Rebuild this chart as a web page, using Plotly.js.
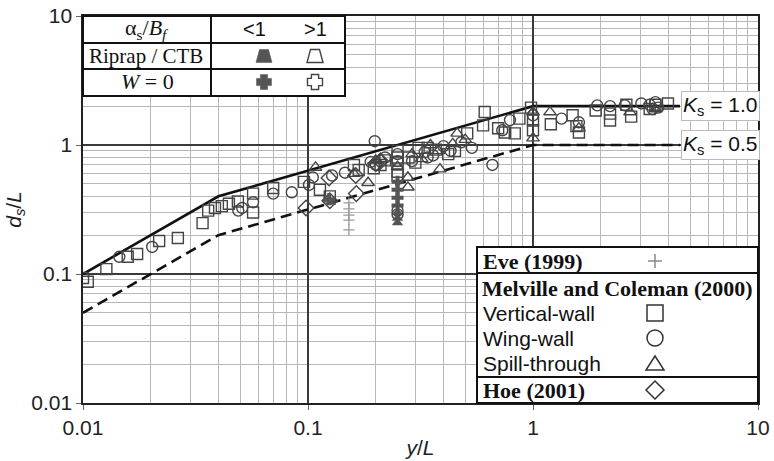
<!DOCTYPE html>
<html><head><meta charset="utf-8">
<script src="https://cdn.plot.ly/plotly-3.0.1.min.js"></script>
<style>html,body{margin:0;padding:0;background:#fff}#chart{width:774px;height:461px}</style>
</head><body><div id="chart"></div>
<script>
// ---------- data ----------
const envelopeX = [0.01, 0.04, 1, 4.5];
const ks10Y = [0.1, 0.4, 2, 2];
const ks05Y = [0.05, 0.2, 1, 1];

const eveX = [0.152, 0.152, 0.152, 0.152, 0.152];
const eveY = [0.356, 0.32, 0.286, 0.262, 0.22];

const vwX = [0.0100,0.0105,0.0127,0.0158,0.0174,0.0218,0.0264,0.034,0.036,0.0386,0.0414,0.0445,0.0488,0.057,0.057,0.070,0.096,0.113,0.125,0.160,0.168,0.196,0.21,0.22,0.25,0.25,0.25,0.25,0.25,0.28,0.30,0.31,0.34,0.37,0.42,0.45,0.51,0.60,0.61,0.70,0.75,0.83,0.87,0.98,1.0,1.0,1.2,1.5,1.56,1.6,1.9,2.2,2.2,2.6,2.73,3.3,3.5,3.98];
const vwY = [0.093,0.087,0.109,0.136,0.143,0.18,0.19,0.248,0.31,0.325,0.336,0.35,0.365,0.42,0.30,0.464,0.518,0.45,0.40,0.70,0.64,0.66,0.70,0.76,0.90,0.80,0.72,0.62,0.58,0.80,0.73,0.95,0.95,0.92,0.85,0.90,1.23,1.42,1.8,1.35,1.25,1.23,1.6,1.95,1.55,1.3,1.45,1.7,1.4,1.25,1.85,1.75,1.55,2.05,1.66,1.9,2.05,2.1];

const wwX = [0.0145,0.0203,0.049,0.051,0.057,0.070,0.0847,0.101,0.105,0.128,0.146,0.198,0.19,0.20,0.22,0.25,0.25,0.25,0.25,0.29,0.33,0.34,0.36,0.40,0.43,0.48,0.535,0.66,0.73,0.79,1.0,1.34,1.6,1.93,2.2,2.56,3.03,3.3,3.4,3.5,3.6];
const wwY = [0.136,0.162,0.31,0.325,0.36,0.42,0.43,0.49,0.56,0.58,0.61,1.07,0.74,0.70,0.80,0.85,0.75,0.31,0.29,0.75,0.88,0.80,0.83,0.98,0.90,1.05,0.95,0.70,1.3,1.56,1.7,1.6,1.5,2.03,2.0,2.03,2.1,2.05,1.9,2.15,1.95];

const stX = [0.108,0.16,0.185,0.20,0.21,0.25,0.278,0.278,0.29,0.32,0.35,0.38,0.386,0.44,0.46,0.50,1.0,1.0,1.19,1.6,2.7,3.5];
const stY = [0.67,0.60,0.51,0.76,0.78,0.68,0.56,0.47,0.85,0.78,1.0,0.90,0.65,1.02,1.23,1.10,1.13,1.8,1.8,1.35,1.8,1.9];

const hoeX = [0.098,0.124,0.125,0.163,0.164,0.20,0.21];
const hoeY = [0.325,0.556,0.37,0.58,0.42,0.72,0.75];

const filledCrossX = [0.124,0.25,0.25,0.25,0.25];
const filledCrossY = [0.38,0.52,0.45,0.39,0.34];
const filledTriX = [0.126,0.25,0.25,0.25];
const filledTriY = [0.36,0.30,0.27,0.25];

const decadeTicks = [0.01, 0.1, 1, 10];
const decadeText = ['0.01', '0.1', '1', '10'];

// ---------- layout helpers ----------
const L = 83, R = 758, T = 16, B = 403;
const fx = p => (p - L) / (R - L);
const fy = p => (B - p) / (B - T);
const minorVals = [];
[0.01, 0.1, 1].forEach(d => { for (let k = 2; k <= 9; k++) minorVals.push(+(d * k).toPrecision(3)); });

const SANS = 'Liberation Sans, Arial, sans-serif';
const SERIF = 'Liberation Serif, Times New Roman, serif';
const MK = '#444';

function openTrace(x, y, sym, size) {
  return {x, y, type:'scatter', mode:'markers', hoverinfo:'skip',
    marker:{symbol:sym, size:size, color:MK, line:{width:1.4, color:MK}}};
}

const traces = [
  {x:envelopeX, y:ks10Y, type:'scatter', mode:'lines', line:{color:'#111', width:2.6}, hoverinfo:'skip'},
  {x:envelopeX, y:ks05Y, type:'scatter', mode:'lines', line:{color:'#111', width:2.6, dash:'11px,6px'}, hoverinfo:'skip'},
  {x:eveX, y:eveY, type:'scatter', mode:'markers', hoverinfo:'skip',
    marker:{symbol:'cross-thin-open', size:8, color:'#999', line:{width:1.3, color:'#999'}}},
  openTrace(vwX, vwY, 'square-open', 11),
  openTrace(wwX, wwY, 'circle-open', 11),
  openTrace(stX, stY, 'triangle-up-open', 11),
  openTrace(hoeX, hoeY, 'diamond-open', 12),
  {x:filledCrossX, y:filledCrossY, type:'scatter', mode:'markers', hoverinfo:'skip',
    marker:{symbol:'cross', size:10, color:'#555', line:{width:0}}},
  {x:filledTriX, y:filledTriY, type:'scatter', mode:'markers', hoverinfo:'skip',
    marker:{symbol:'triangle-up', size:10, color:'#555', line:{width:0}}}
];

// ---------- shapes (tables) ----------
const shapes = [];
function rect(x0, y0, x1, y1, w) {
  shapes.push({type:'rect', xref:'paper', yref:'paper', x0:fx(x0), x1:fx(x1), y0:fy(y1), y1:fy(y0),
    line:{color:'#111', width:w}, fillcolor:'#fff', layer:'above'});
}
function hline(x0, x1, y, w) {
  shapes.push({type:'line', xref:'paper', yref:'paper', x0:fx(x0), x1:fx(x1), y0:fy(y), y1:fy(y),
    line:{color:'#111', width:w}, layer:'above'});
}
function vline(x, y0, y1, w) {
  shapes.push({type:'line', xref:'paper', yref:'paper', x0:fx(x), x1:fx(x), y0:fy(y0), y1:fy(y1),
    line:{color:'#111', width:w}, layer:'above'});
}
function pathPx(pts, fill, lineCol, lw) {
  const d = pts.map((p, i) => (i ? 'L' : 'M') + fx(p[0]).toFixed(5) + ',' + fy(p[1]).toFixed(5)).join(' ') + ' Z';
  shapes.push({type:'path', xref:'paper', yref:'paper', path:d, fillcolor:fill, line:{color:lineCol, width:lw}, layer:'above'});
}
function trapezoid(cx, cy, filled) {
  pathPx([[cx-8, cy+6.5], [cx+8, cy+6.5], [cx+4.5, cy-6.5], [cx-4.5, cy-6.5]],
    filled ? '#555' : 'rgba(0,0,0,0)', filled ? '#555' : '#444', filled ? 0.5 : 1.4);
}
function plus(cx, cy, filled) {
  const a = 3.6, b = 7.5;
  pathPx([[cx-a,cy-b],[cx+a,cy-b],[cx+a,cy-a],[cx+b,cy-a],[cx+b,cy+a],[cx+a,cy+a],[cx+a,cy+b],
          [cx-a,cy+b],[cx-a,cy+a],[cx-b,cy+a],[cx-b,cy-a],[cx-a,cy-a]],
    filled ? '#555' : 'rgba(0,0,0,0)', filled ? '#555' : '#444', filled ? 0.5 : 1.4);
}

// top-left table
rect(83, 16, 345, 96, 2);
hline(83, 345, 43, 2);
hline(83, 345, 69, 2);
vline(211, 16, 96, 2);
trapezoid(264, 56, true);
trapezoid(315, 56, false);
plus(264, 82, true);
plus(315, 82, false);

// bottom-right legend table
rect(477, 247, 758, 403, 2);
hline(477, 758, 273, 2);
hline(477, 758, 377, 2);
const sx = 655;
shapes.push({type:'line', xref:'paper', yref:'paper', x0:fx(sx-7), x1:fx(sx+7), y0:fy(261), y1:fy(261), line:{color:'#888', width:1.5}, layer:'above'});
shapes.push({type:'line', xref:'paper', yref:'paper', x0:fx(sx), x1:fx(sx), y0:fy(254), y1:fy(268), line:{color:'#888', width:1.5}, layer:'above'});
shapes.push({type:'rect', xref:'paper', yref:'paper', x0:fx(sx-8), x1:fx(sx+8), y0:fy(321), y1:fy(305), line:{color:'#333', width:1.5}, layer:'above'});
shapes.push({type:'circle', xref:'paper', yref:'paper', x0:fx(sx-8), x1:fx(sx+8), y0:fy(346), y1:fy(330), line:{color:'#333', width:1.5}, layer:'above'});
pathPx([[sx-9, 370], [sx+9, 370], [sx, 356]], 'rgba(0,0,0,0)', '#333', 1.5);
pathPx([[sx, 381], [sx+9, 390], [sx, 399], [sx-9, 390]], 'rgba(0,0,0,0)', '#333', 1.5);

// ---------- annotations ----------
const ann = [];
function txt(text, x, y, font, anchor) {
  ann.push({text, xref:'paper', yref:'paper', x:fx(x), y:fy(y), showarrow:false,
    xanchor:anchor || 'center', yanchor:'middle', font});
}
txt('α<sub>s</sub>/<i>B<sub>f</sub></i>', 147, 29, {family:SERIF, size:22, color:'#111'});
txt('<1', 254, 29, {family:SANS, size:20, color:'#111'});
txt('>1', 315, 29, {family:SANS, size:20, color:'#111'});
txt('Riprap / CTB', 146, 56, {family:SERIF, size:21, color:'#111'});
txt('<i>W</i> = 0', 147, 82, {family:SERIF, size:22, color:'#111'});

txt('<b>Eve (1999)</b>', 481, 261, {family:SERIF, size:22, color:'#111'}, 'left');
txt('<b>Melville and Coleman (2000)</b>', 480, 289, {family:SERIF, size:22, color:'#111'}, 'left');
txt('Vertical-wall', 481, 313, {family:SANS, size:21, color:'#111'}, 'left');
txt('Wing-wall', 481, 338, {family:SANS, size:21, color:'#111'}, 'left');
txt('Spill-through', 481, 363, {family:SANS, size:21, color:'#111'}, 'left');
txt('<b>Hoe (2001)</b>', 481, 390, {family:SERIF, size:22, color:'#111'}, 'left');

ann.push({text:'<i>K</i><sub>s</sub> = 1.0', xref:'paper', yref:'paper', x:fx(681), y:fy(106), showarrow:false,
  xanchor:'left', yanchor:'middle', bgcolor:'#fff', bordercolor:'#bbb', borderwidth:1, borderpad:1,
  font:{family:SANS, size:21, color:'#111'}});
ann.push({text:'<i>K</i><sub>s</sub> = 0.5', xref:'paper', yref:'paper', x:fx(681), y:fy(145), showarrow:false,
  xanchor:'left', yanchor:'middle', bgcolor:'#fff', bordercolor:'#bbb', borderwidth:1, borderpad:1,
  font:{family:SANS, size:21, color:'#111'}});

// ---------- axes ----------
function axis(title, standoff) {
  return {
    type:'log', range:[-2, 1], tickmode:'array', tickvals:decadeTicks, ticktext:decadeText,
    ticks:'outside', ticklen:5, tickwidth:1, tickcolor:'#666',
    showgrid:true, gridcolor:'#3a3a3a', gridwidth:1.4,
    minor:{tickmode:'array', tickvals:minorVals, showgrid:true, gridcolor:'#b8b8b8', gridwidth:1, ticks:''},
    showline:true, linecolor:'#222', linewidth:1.6, mirror:true, zeroline:false,
    tickfont:{family:SANS, size:21, color:'#222'},
    title:{text:title, font:{family:SANS, size:21, color:'#222'}, standoff:standoff},
    automargin:false
  };
}

const layout = {
  width:774, height:461,
  margin:{l:83, r:16, t:16, b:58},
  paper_bgcolor:'#fff', plot_bgcolor:'#fff',
  showlegend:false,
  xaxis:axis('<i>y</i>/<i>L</i>', 2),
  yaxis:axis('<i>d<sub>s</sub></i>/<i>L</i>', 4),
  shapes, annotations:ann
};

Plotly.newPlot('chart', traces, layout, {staticPlot:true, displayModeBar:false});
</script>
</body></html>
